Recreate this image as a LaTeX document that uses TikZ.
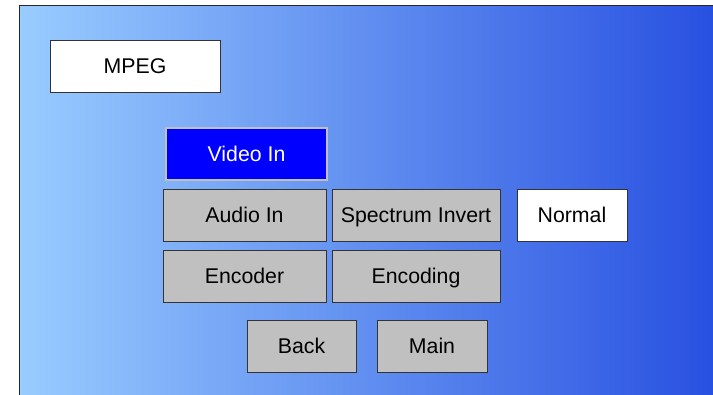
\documentclass[tikz,border=0pt]{standalone}
\usepackage{fontspec}
\setmainfont{Liberation Sans}
\begin{document}
\begin{tikzpicture}[x=1pt,y=-1pt,
  box/.style={draw=black!80, line width=0.8pt, inner sep=0pt, text height=15.2pt, text depth=0pt, font=\fontsize{21.3}{24}\selectfont, text=black},
  graybox/.style={box, fill={rgb,255:red,192;green,192;blue,192}},
  whitebox/.style={box, fill=white},
  selbox/.style={box, draw={rgb,255:red,192;green,192;blue,192}, line width=1.6pt, fill={rgb,255:red,0;green,0;blue,255}, text=white}
]
\useasboundingbox (0,0) rectangle (713,395);
\begin{scope}
\clip (0,0) rectangle (713,395);
\shade[left color={rgb,255:red,153;green,204;blue,255}, right color={rgb,255:red,40;green,80;blue,225}] (19.5,5.5) rectangle (716,398);
\draw[line width=1.2pt, black!85] (716,5.5) -- (19.5,5.5) -- (19.5,398);
\end{scope}
\node[whitebox, minimum width=170pt, minimum height=52pt] (mpeg) at (135,66) {MPEG};
\node[selbox, minimum width=161pt, minimum height=52pt] (video) at (246.5,154) {Video In};
\node[graybox, minimum width=163pt, minimum height=52pt] (audio) at (244.5,215) {Audio In};
\node[graybox, minimum width=168pt, minimum height=52pt] (spec) at (416,215) {Spectrum Invert};
\node[whitebox, minimum width=110pt, minimum height=52pt] (normal) at (572,215) {Normal};
\node[graybox, minimum width=163pt, minimum height=52pt] (encoder) at (244.5,276) {Encoder};
\node[graybox, minimum width=168pt, minimum height=52pt] (encoding) at (416,276) {Encoding};
\node[graybox, minimum width=109pt, minimum height=52pt] (back) at (301.5,346) {Back};
\node[graybox, minimum width=110pt, minimum height=52pt] (main) at (432,346) {Main};
\end{tikzpicture}
\end{document}
